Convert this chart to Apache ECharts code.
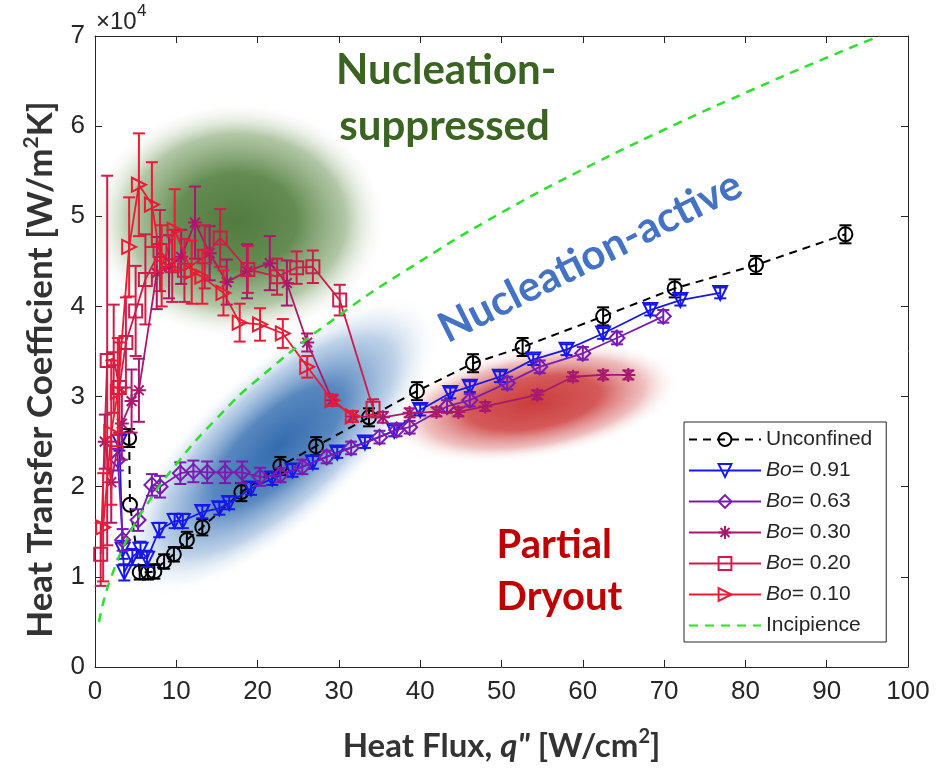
<!DOCTYPE html>
<html><head><meta charset="utf-8">
<script src="https://cdn.jsdelivr.net/npm/echarts@6/dist/echarts.min.js"></script>
<style>html,body{margin:0;padding:0;background:#fff}#c{width:936px;height:770px}</style>
</head><body><div id="c"></div>
<script>
// ---------- data (q'' in W/cm2, h in 1e4 W/m2K) ----------
const xTickLabels = ['0','10','20','30','40','50','60','70','80','90','100'];
const yTickLabels = ['0','1','2','3','4','5','6','7'];
const seriesNames = ['Unconfined','Bo= 0.91','Bo= 0.63','Bo= 0.30','Bo= 0.20','Bo= 0.10','Incipience'];

const unconfined = [[4.2,2.54],[4.3,1.80],[5.5,1.05],[6.5,1.05],[7.3,1.06],[8.5,1.17],[9.7,1.25],[11.3,1.41],[13.2,1.55],[18.0,1.94],[22.8,2.23],[27.2,2.45],[33.7,2.77],[39.6,3.06],[46.5,3.37],[52.6,3.55],[62.5,3.89],[71.3,4.20],[81.3,4.46],[92.3,4.80]];
const unconfinedErr = [0.10,0.0,0.08,0.08,0.08,0.08,0.08,0.09,0.09,0.10,0.10,0.10,0.10,0.10,0.10,0.10,0.10,0.10,0.10,0.10];

const bo091 = [[3.0,2.50],[3.4,1.30],[3.6,1.05],[4.6,1.22],[5.6,1.30],[6.4,1.20],[7.9,1.52],[9.8,1.62],[10.8,1.62],[13.2,1.72],[15.3,1.76],[16.5,1.82],[19.2,1.98],[21.8,2.09],[24.3,2.18],[26.8,2.27],[29.8,2.38],[33.2,2.49],[36.8,2.62],[40.0,2.85],[43.7,3.04],[46.1,3.11],[49.8,3.22],[53.9,3.41],[58.0,3.52],[62.5,3.70],[68.3,3.96],[72.0,4.07],[76.9,4.15]];
const bo091Err = [0.10,0.10,0.09,0.09,0.09,0.09,0.08,0.08,0.08,0.07,0.07,0.07,0.07,0.07,0.07,0.07,0.06,0.06,0.06,0.06,0.06,0.06,0.06,0.06,0.06,0.06,0.06,0.06,0.06];

const bo063 = [[2.8,2.30],[3.4,1.41],[5.3,1.63],[7.0,2.02],[8.0,2.00],[10.5,2.15],[12.1,2.17],[13.8,2.16],[16.0,2.16],[18.1,2.16],[20.3,2.11],[22.8,2.13],[25.5,2.22],[28.5,2.33],[31.5,2.43],[35.0,2.55],[37.1,2.63],[38.7,2.66],[43.3,2.89],[46.1,2.96],[50.7,3.15],[54.7,3.33],[60.0,3.48],[64.2,3.65],[69.9,3.89]];
const bo063Err = [0.12,0.12,0.12,0.12,0.12,0.12,0.12,0.12,0.12,0.12,0.10,0.08,0.08,0.07,0.07,0.07,0.07,0.07,0.07,0.07,0.07,0.07,0.07,0.07,0.07];

const bo030 = [[1.2,2.50],[2.0,2.05],[3.3,2.70],[4.5,2.95],[5.4,3.07],[7.6,4.37],[9.1,4.44],[10.6,4.55],[12.3,4.93],[14.1,4.59],[16.2,4.27],[18.7,4.39],[21.5,4.48],[23.6,4.26],[26.1,3.60],[29.2,2.96],[31.7,2.78],[35.4,2.77],[38.7,2.82],[42.0,2.83],[44.7,2.83],[48.0,2.89],[54.4,3.02],[58.8,3.22],[62.5,3.24],[65.6,3.24]];
const bo030Err = [0.30,0.45,0.40,0.35,0.35,0.40,0.35,0.30,0.40,0.30,0.25,0.30,0.30,0.25,0.10,0.06,0.06,0.06,0.05,0.05,0.05,0.05,0.05,0.05,0.05,0.05];

const bo020 = [[0.7,1.25],[1.5,3.40],[2.3,3.42],[3.0,3.10],[3.8,3.60],[5.0,3.95],[6.2,4.30],[8.0,4.62],[9.5,4.45],[11.0,4.40],[13.5,4.55],[15.4,4.76],[18.8,4.41],[22.4,4.33],[24.8,4.43],[26.8,4.44],[30.1,4.07],[34.2,2.87]];
const bo020Err = [0.35,2.05,0.60,0.50,0.50,0.50,0.50,0.45,0.40,0.35,0.35,0.32,0.26,0.20,0.18,0.18,0.17,0.10];

const bo010 = [[1.0,1.55],[2.0,2.60],[2.8,3.05],[4.2,4.66],[5.4,5.35],[7.0,5.13],[8.2,4.45],[9.8,4.85],[11.9,4.38],[13.2,4.33],[15.8,4.15],[17.8,3.82],[20.3,3.80],[23.1,3.70],[26.1,3.33],[29.2,2.96],[31.7,2.78]];
const bo010Err = [0.60,0.80,0.60,0.55,0.57,0.47,0.45,0.45,0.35,0.30,0.25,0.21,0.18,0.16,0.12,0.06,0.06];

const incipienceQ = [0.5,1,2,4,6,10,15,20,30,40,50,60,70,80,90,96.5];
const incipienceH = [0.50,0.71,1.00,1.43,1.75,2.25,2.76,3.19,3.90,4.50,5.04,5.52,5.96,6.37,6.76,7.00];

// region annotations (data coordinates of centres / anchors)
const greenRegion = [17.5, 4.95];
const blueRegion = [22.5, 2.45];
const redRegion = [54.0, 2.93];
const labelSuppressed = [[43.2, 6.62, 'Nucleation-'], [43.0, 6.00, 'suppressed']];
const labelActive = [60.9, 4.55, 'Nucleation-active'];
const labelDryout = [[49.4, 1.35, 'Partial'], [49.4, 0.77, 'Dryout']];

// ---------- styling ----------
const AX = '#262626';
const tickFont = '"Liberation Sans",Arial,sans-serif';
const legFont = '"Liberation Sans",Arial,sans-serif';
const titleFont = 'Lato,"Open Sans",sans-serif';
const C = {
  unc: '#000000', b91: '#1717E8', b63: '#7A1CB0', b30: '#A8196E', b20: '#CC1E4A', b10: '#EC1A34', inc: '#2EE02E'
};
const asterisk = 'path://M0,-10L0,10M-10,0L10,0M-7,-7L7,7M-7,7L7,-7';

function errSeries(name, pts, errs, color, z) {
  return {
    type: 'custom', name: name + ' err', z: z, silent: true,
    data: pts.map((p, i) => [p[0], p[1], errs[i]]),
    encode: {x: 0, y: 1},
    renderItem: function (params, api) {
      const q = api.value(0), h = api.value(1), e = api.value(2);
      if (!e) return null;
      const t = api.coord([q, h + e]), b = api.coord([q, h - e]);
      const w = 6;
      const st = {stroke: color, lineWidth: 2};
      return {type: 'group', children: [
        {type: 'line', shape: {x1: t[0], y1: t[1], x2: b[0], y2: b[1]}, style: st},
        {type: 'line', shape: {x1: t[0] - w, y1: t[1], x2: t[0] + w, y2: t[1]}, style: st},
        {type: 'line', shape: {x1: b[0] - w, y1: b[1], x2: b[0] + w, y2: b[1]}, style: st}
      ]};
    }
  };
}
function lineSeries(name, pts, color, symbol, size, rot, dashed, z) {
  return {
    type: 'line', name: name, data: pts, z: z,
    symbol: symbol, symbolSize: size, symbolRotate: rot, showAllSymbol: true,
    itemStyle: {color: 'rgba(0,0,0,0)', borderColor: color, borderWidth: 2},
    lineStyle: {color: color, width: dashed ? 2 : 1.8, type: dashed ? [8, 6] : 'solid'},
    emphasis: {disabled: true}
  };
}

const chart = echarts.init(document.getElementById('c'));
const axisCommon = {
  type: 'value', axisLine: {show: true, onZero: false, lineStyle: {color: AX, width: 1}},
  axisTick: {show: true, inside: true, length: 7, lineStyle: {color: AX}},
  splitLine: {show: false}
};
const option = {
  animation: false,
  backgroundColor: '#fff',
  grid: {left: 95, right: 28, top: 36, bottom: 103},
  xAxis: [
    Object.assign({}, axisCommon, {min: 0, max: 100, interval: 10, position: 'bottom',
      axisLabel: {fontSize: 26, color: AX, fontFamily: tickFont, margin: 12,
        formatter: v => xTickLabels[Math.round(v / 10)]},
      name: 'Heat Flux, {i|q"} [W/cm{s|2}]', nameLocation: 'middle', nameGap: 60,
      nameTextStyle: {fontSize: 33, fontWeight: 'bold', fontFamily: titleFont, color: '#333',
        rich: {i: {fontSize: 33, fontWeight: 'bold', fontStyle: 'italic', fontFamily: titleFont, color: '#333'},
               s: {fontSize: 20, fontWeight: 'bold', fontFamily: titleFont, color: '#333', verticalAlign: 'top', padding: [0, 0, 18, 0]}}}}),
    Object.assign({}, axisCommon, {min: 0, max: 100, interval: 10, position: 'top', axisLabel: {show: false}})
  ],
  yAxis: [
    Object.assign({}, axisCommon, {min: 0, max: 7, interval: 1, position: 'left',
      axisLabel: {fontSize: 26, color: AX, fontFamily: tickFont, margin: 10,
        formatter: v => yTickLabels[Math.round(v)]},
      name: 'Heat Transfer Coefficient [W/m{s|2}K]', nameLocation: 'middle', nameGap: 34, nameRotate: 90,
      nameTextStyle: {fontSize: 35, fontWeight: 'bold', fontFamily: titleFont, color: '#333', padding: [0, 36, 0, 0],
        rich: {s: {fontSize: 21, fontWeight: 'bold', fontFamily: titleFont, color: '#333', verticalAlign: 'top', padding: [0, 0, 19, 0]}}}}),
    Object.assign({}, axisCommon, {min: 0, max: 7, interval: 1, position: 'right', axisLabel: {show: false}})
  ],
  legend: {
    data: seriesNames.map(n => n === 'Incipience'
      ? {name: n, itemStyle: {color: 'rgba(0,0,0,0)', borderWidth: 0, opacity: 0}}
      : {name: n}),
    orient: 'vertical', left: 684, top: 422,
    itemWidth: 72, itemHeight: 16, itemGap: 10, selectedMode: false,
    padding: [7, 14, 6, 4],
    backgroundColor: '#fff', borderColor: AX, borderWidth: 1,
    textStyle: {fontSize: 21, color: AX, fontFamily: legFont,
      rich: {i: {fontSize: 21, color: AX, fontFamily: legFont, fontStyle: 'italic'}}},
    formatter: n => n.indexOf('Bo') === 0 ? '{i|Bo}' + n.slice(2) : n
  },
  series: [
    errSeries('Unconfined', unconfined, unconfinedErr, C.unc, 3),
    lineSeries('Unconfined', unconfined, C.unc, 'circle', 14, 0, true, 3),
    errSeries('Bo= 0.91', bo091, bo091Err, C.b91, 4),
    lineSeries('Bo= 0.91', bo091, C.b91, 'triangle', 14, 180, false, 4),
    errSeries('Bo= 0.63', bo063, bo063Err, C.b63, 5),
    lineSeries('Bo= 0.63', bo063, C.b63, 'diamond', 15, 0, false, 5),
    errSeries('Bo= 0.30', bo030, bo030Err, C.b30, 6),
    lineSeries('Bo= 0.30', bo030, C.b30, asterisk, 14, 0, false, 6),
    errSeries('Bo= 0.20', bo020, bo020Err, C.b20, 7),
    lineSeries('Bo= 0.20', bo020, C.b20, 'rect', 13, 0, false, 7),
    errSeries('Bo= 0.10', bo010, bo010Err, C.b10, 8),
    lineSeries('Bo= 0.10', bo010, C.b10, 'triangle', 14, -90, false, 8),
    {type: 'line', name: 'Incipience', z: 9, symbol: 'none', smooth: true,
      data: incipienceQ.map((q, i) => [q, incipienceH[i]]),
      itemStyle: {color: C.inc}, lineStyle: {color: C.inc, width: 2.5, type: [9, 7]}}
  ]
};
chart.setOption(option);

// ---------- region blobs and labels placed in data coordinates ----------
const px = p => chart.convertToPixel({xAxisIndex: 0, yAxisIndex: 0}, p);
function blob(center, rx, ry, rot, stops) {
  const c = px(center);
  return {type: 'circle', silent: true, z: -10, x: c[0], y: c[1], scaleX: rx / 100, scaleY: ry / 100, rotation: rot,
    shape: {cx: 0, cy: 0, r: 100},
    style: {fill: {type: 'radial', x: 0.5, y: 0.5, r: 0.5, colorStops: stops}}};
}
const g = [];
g.push(blob(greenRegion, 150, 120, 0, [
  {offset: 0, color: 'rgba(72,115,52,0.95)'}, {offset: 0.4, color: 'rgba(84,128,64,0.9)'},
  {offset: 0.72, color: 'rgba(125,160,105,0.6)'}, {offset: 1, color: 'rgba(255,255,255,0)'}]));
g.push(blob(blueRegion, 208, 80, 0.74, [
  {offset: 0, color: 'rgba(40,100,170,0.95)'}, {offset: 0.4, color: 'rgba(60,115,180,0.85)'},
  {offset: 0.72, color: 'rgba(125,165,210,0.5)'}, {offset: 1, color: 'rgba(255,255,255,0)'}]));
g.push(blob(redRegion, 148, 56, 0.17, [
  {offset: 0, color: 'rgba(200,50,50,0.95)'}, {offset: 0.45, color: 'rgba(205,60,60,0.85)'},
  {offset: 0.75, color: 'rgba(222,125,125,0.5)'}, {offset: 1, color: 'rgba(255,255,255,0)'}]));
labelSuppressed.forEach(l => {
  const p = px([l[0], l[1]]);
  g.push({type: 'text', z: 20, x: p[0], y: p[1], style: {text: l[2], fill: '#3B6322', font: 'bold 42px ' + titleFont, align: 'center', verticalAlign: 'middle'}});
});
{
  const p = px([labelActive[0], labelActive[1]]);
  g.push({type: 'text', z: 20, x: p[0], y: p[1], rotation: 0.465, style: {text: labelActive[2], fill: '#4472C4', font: 'bold 42px ' + titleFont, align: 'center', verticalAlign: 'middle'}});
}
labelDryout.forEach(l => {
  const p = px([l[0], l[1]]);
  g.push({type: 'text', z: 20, x: p[0], y: p[1], style: {text: l[2], fill: '#C00000', font: 'bold 40px ' + titleFont, align: 'left', verticalAlign: 'middle'}});
});
// axis multiplier
g.push({type: 'text', z: 20, left: 96, top: 10, style: {text: '\u00d710', fill: AX, font: '24px ' + legFont}});
g.push({type: 'text', z: 20, left: 137, top: 3, style: {text: '4', fill: AX, font: '17px ' + legFont}});
chart.setOption({graphic: g});
</script>
</body></html>
